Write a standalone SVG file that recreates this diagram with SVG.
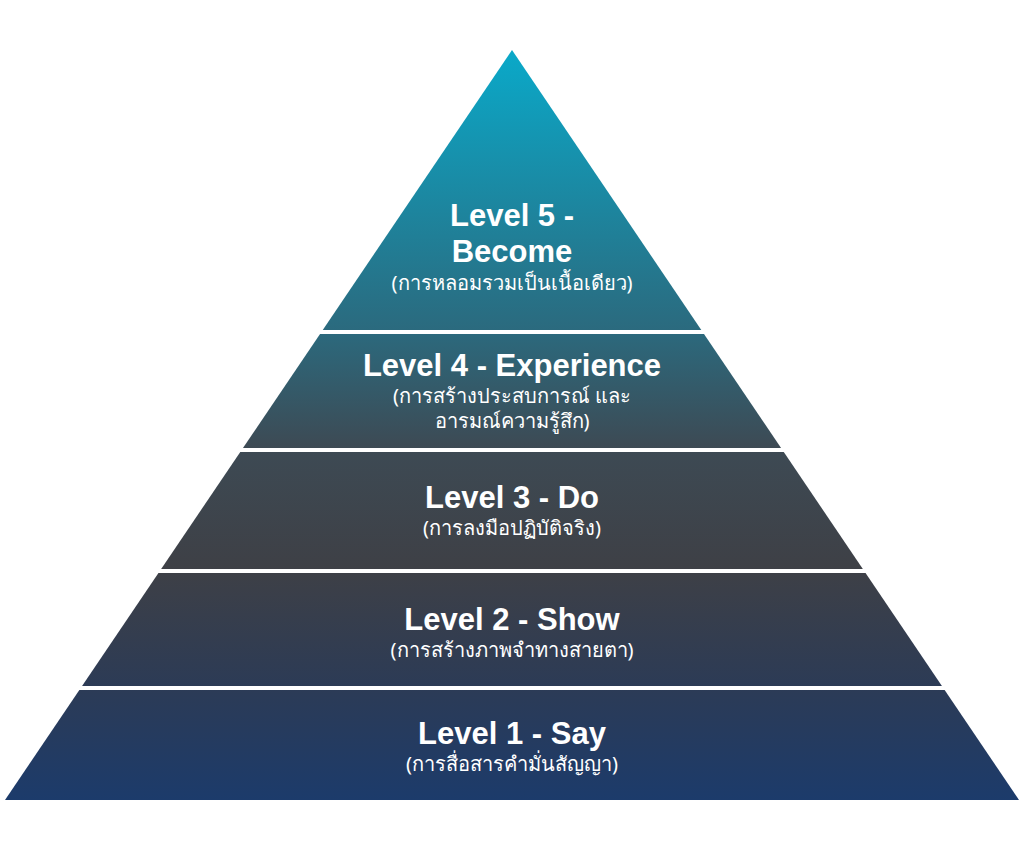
<svg xmlns="http://www.w3.org/2000/svg" width="1024" height="849" viewBox="0 0 1024 849">
<defs>
<linearGradient id="g" gradientUnits="userSpaceOnUse" x1="0" y1="50" x2="0" y2="800">
<stop offset="0" stop-color="#0aa9c9"/>
<stop offset="0.373" stop-color="#2b6a7e"/>
<stop offset="0.53" stop-color="#3d4a54"/>
<stop offset="0.69" stop-color="#3e4046"/>
<stop offset="0.85" stop-color="#2c3b56"/>
<stop offset="1" stop-color="#1c3b6b"/>
</linearGradient>
<style>
.t{font-family:"Liberation Sans","Noto Sans",sans-serif;font-weight:bold;font-size:31px;fill:#fff;text-anchor:middle}
.s{font-family:"Noto Sans","Liberation Sans",sans-serif;font-size:20px;fill:#fff;text-anchor:middle}
.sep{stroke:#fff;stroke-width:4}
</style>
</defs>
<rect width="1024" height="849" fill="#fff"/>
<polygon points="512,50 1019,800 5,800" fill="url(#g)"/>
<g id="connectors">
<line class="sep" x1="300" y1="332" x2="730" y2="332"/>
<line class="sep" x1="220" y1="450" x2="810" y2="450"/>
<line class="sep" x1="140" y1="571" x2="890" y2="571"/>
<line class="sep" x1="60" y1="688" x2="970" y2="688"/>
</g>
<g id="level5"><text class="t" x="512" y="226">Level 5 -</text><text class="t" x="512" y="262">Become</text><text class="s" x="512" y="290">(การหลอมรวมเป็นเนื้อเดียว)</text></g>
<g id="level4"><text class="t" x="512" y="376">Level 4 - Experience</text><text class="s" x="512" y="403">(การสร้างประสบการณ์ และ</text><text class="s" x="512" y="428">อารมณ์ความรู้สึก)</text></g>
<g id="level3"><text class="t" x="512" y="508">Level 3 - Do</text><text class="s" x="512" y="535">(การลงมือปฏิบัติจริง)</text></g>
<g id="level2"><text class="t" x="512" y="630">Level 2 - Show</text><text class="s" x="512" y="657">(การสร้างภาพจำทางสายตา)</text></g>
<g id="level1"><text class="t" x="512" y="744">Level 1 - Say</text><text class="s" x="512" y="771">(การสื่อสารคำมั่นสัญญา)</text></g>
</svg>
